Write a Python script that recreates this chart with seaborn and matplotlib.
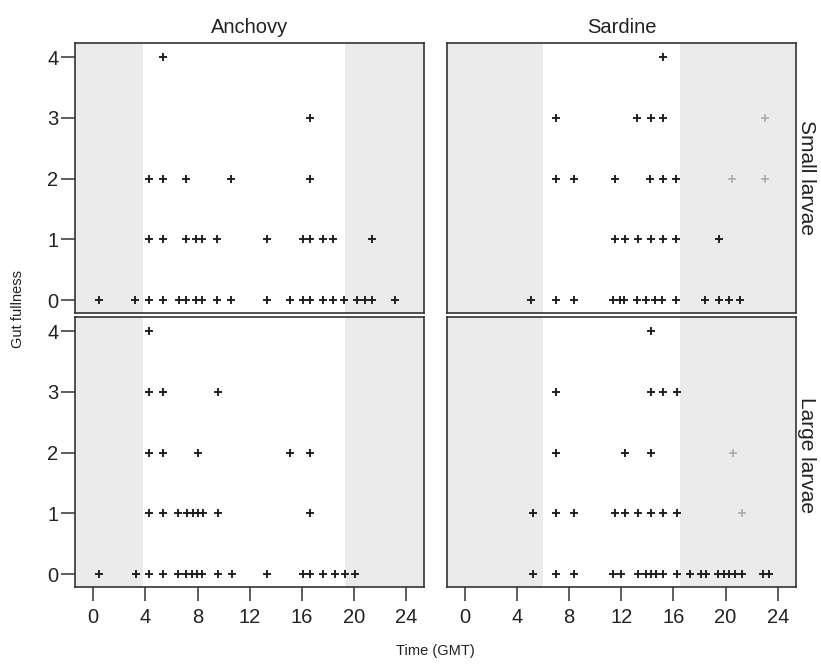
import numpy as np
import pandas as pd
import matplotlib
matplotlib.use("Agg")
import matplotlib.pyplot as plt
import seaborn as sns

# ---- data (hour of capture, gut fullness) ----
anch_small_t = [5.35,
                16.6,
                4.3, 5.35, 7.1, 10.55, 16.6,
                4.3, 5.35, 7.1, 7.9, 8.3, 9.5, 13.3, 16.05, 16.6, 17.6, 18.4, 21.4,
                0.45, 3.2, 4.3, 5.35, 6.6, 7.1, 7.9, 8.3, 9.5, 10.55, 13.3, 15.1, 16.05,
                16.6, 17.6, 18.4, 19.2, 20.2, 20.8, 21.4, 23.1]
anch_small_g = [4,
                3,
                2, 2, 2, 2, 2,
                1, 1, 1, 1, 1, 1, 1, 1, 1, 1, 1, 1,
                0, 0, 0, 0, 0, 0, 0, 0, 0, 0, 0, 0, 0,
                0, 0, 0, 0, 0, 0, 0, 0]

sard_small_t = [15.2,
                7.0, 13.2, 14.25, 15.2,
                7.0, 8.4, 11.5, 14.2, 15.2, 16.2,
                11.5, 12.3, 13.3, 14.25, 15.2, 16.2, 19.5,
                5.1, 7.0, 8.35, 11.35, 11.9, 12.25, 13.2, 13.9, 14.6, 15.1, 16.2,
                18.4, 19.5, 20.3, 21.1]
sard_small_g = [4,
                3, 3, 3, 3,
                2, 2, 2, 2, 2, 2,
                1, 1, 1, 1, 1, 1, 1,
                0, 0, 0, 0, 0, 0, 0, 0, 0, 0, 0,
                0, 0, 0, 0]

anch_large_t = [4.3,
                4.3, 5.35, 9.55,
                4.3, 5.35, 8.0, 15.1, 16.6,
                4.3, 5.35, 6.5, 7.2, 7.65, 8.0, 8.4, 9.55, 16.6,
                0.4, 3.3, 4.3, 5.35, 6.5, 7.1, 7.6, 7.95, 8.3, 9.55, 10.6, 13.3,
                16.05, 16.6, 17.6, 18.5, 19.3, 20.1]
anch_large_g = [4,
                3, 3, 3,
                2, 2, 2, 2, 2,
                1, 1, 1, 1, 1, 1, 1, 1, 1,
                0, 0, 0, 0, 0, 0, 0, 0, 0, 0, 0, 0,
                0, 0, 0, 0, 0, 0]

sard_large_t = [14.3,
                7.0, 14.3, 15.2, 16.25,
                7.0, 12.3, 14.3,
                5.2, 7.0, 8.35, 11.5, 12.3, 13.3, 14.3, 15.2, 16.25,
                5.2, 7.0, 8.35, 11.35, 12.0, 13.3, 13.9, 14.3, 14.7, 15.2, 16.25,
                17.3, 18.15, 18.5, 19.45, 19.85, 20.3, 20.75, 21.3, 22.9, 23.35]
sard_large_g = [4,
                3, 3, 3, 3,
                2, 2, 2,
                1, 1, 1, 1, 1, 1, 1, 1, 1,
                0, 0, 0, 0, 0, 0, 0, 0, 0, 0, 0,
                0, 0, 0, 0, 0, 0, 0, 0, 0, 0]

# faint (light grey) points
faint_t = {("Sardine", "Small larvae"): [23.0, 20.5, 23.0],
           ("Sardine", "Large larvae"): [20.55, 21.3]}
faint_g = {("Sardine", "Small larvae"): [3, 2, 2],
           ("Sardine", "Large larvae"): [2, 1]}

species = ["Anchovy", "Sardine"]
sizes = ["Small larvae", "Large larvae"]
# night periods (hours): (dusk-start, dawn-end)
night_end = {"Anchovy": 3.8, "Sardine": 6.0}
night_start = {"Anchovy": 19.3, "Sardine": 16.5}
x_ticks = [0, 4, 8, 12, 16, 20, 24]
y_ticks = [0, 1, 2, 3, 4]

frames = []
for sp, sz, t, g in [("Anchovy", "Small larvae", anch_small_t, anch_small_g),
                     ("Sardine", "Small larvae", sard_small_t, sard_small_g),
                     ("Anchovy", "Large larvae", anch_large_t, anch_large_g),
                     ("Sardine", "Large larvae", sard_large_t, sard_large_g)]:
    frames.append(pd.DataFrame({"species": sp, "size": sz, "time": t, "gut": g}))
df = pd.concat(frames, ignore_index=True)

sns.set_theme(style="white")
plt.rcParams["font.family"] = ["Liberation Sans Narrow", "Liberation Sans", "DejaVu Sans"]

g = sns.FacetGrid(df, row="size", col="species", row_order=sizes, col_order=species,
                  sharex=True, sharey=True, height=3, aspect=1.2, despine=False)

ink = "#1c1c1c"
for (sz, sp), ax in g.axes_dict.items():
    ax.axvspan(-1.4, night_end[sp], color="#ebebeb", zorder=0, lw=0)
    ax.axvspan(night_start[sp], 25.4, color="#ebebeb", zorder=0, lw=0)
    sub = df[(df.species == sp) & (df["size"] == sz)]
    sns.scatterplot(data=sub, x="time", y="gut", marker="+", s=40, color=ink,
                    linewidth=1.35, ax=ax, zorder=3)
    if (sp, sz) in faint_t:
        sns.scatterplot(x=faint_t[(sp, sz)], y=faint_g[(sp, sz)], marker="+", s=35,
                        color="#a8a8a8", linewidth=1.1, ax=ax, zorder=3)
    ax.set_xlim(-1.4, 25.4)
    ax.set_ylim(-0.21, 4.23)
    ax.set_title("")
    ax.set_xlabel("")
    ax.set_ylabel("")
    for s in ax.spines.values():
        s.set_color("#333333")
        s.set_linewidth(1.2)
    ax.set_xticks(x_ticks)
    ax.set_yticks(y_ticks)
    ax.tick_params(axis="both", direction="out", length=10, width=1.1, color="#333333",
                   labelsize=14.5, labelcolor="#222222")
    ax.tick_params(axis="x", pad=5)
    ax.tick_params(axis="y", pad=2)
    ax.tick_params(axis="x", bottom=(sz == "Large larvae"), labelbottom=(sz == "Large larvae"))
    ax.tick_params(axis="y", left=(sp == "Anchovy"), labelleft=(sp == "Anchovy"))

fig = g.figure
fig.set_size_inches(8.21, 6.64)
fig.subplots_adjust(left=0.0914, right=0.9695, top=0.935, bottom=0.116,
                    wspace=0.063, hspace=0.015)

fig.text(0.3045, 0.959, "Anchovy", ha="center", va="center", fontsize=14.5, color="#222222")
fig.text(0.757, 0.959, "Sardine", ha="center", va="center", fontsize=14.5, color="#222222")
fig.text(0.982, 0.732, "Small larvae", ha="center", va="center", rotation=270,
         fontsize=15, color="#222222")
fig.text(0.982, 0.315, "Large larvae", ha="center", va="center", rotation=270,
         fontsize=15, color="#222222")
fig.text(0.022, 0.535, "Gut fullness", ha="center", va="center", rotation=90,
         fontsize=10.5, color="#222222")
fig.text(0.53, 0.02, "Time (GMT)", ha="center", va="center", fontsize=10.5, color="#222222")

fig.savefig("out.png", dpi=100)
